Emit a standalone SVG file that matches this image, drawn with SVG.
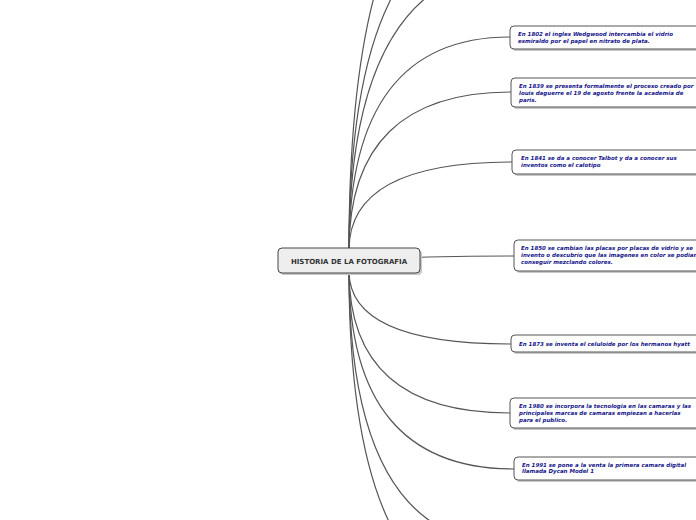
<svg xmlns="http://www.w3.org/2000/svg" width="696" height="520" viewBox="0 0 696 520">
<style>
.c{fill:none;stroke:#555;stroke-width:1.2;stroke-linecap:round}
.b{fill:#fff;stroke:#555;stroke-width:1}
.s{fill:#c8c8c8}
.t{font-family:"DejaVu Sans",Verdana,sans-serif;font-size:5.5px;font-weight:bold;font-style:italic;fill:#16168a}
.m{font-family:"DejaVu Sans",Verdana,sans-serif;font-size:7px;font-weight:bold;fill:#333}
</style>
<rect width="696" height="520" fill="#fff"/>
<g id="connectors">
<path class="c" d="M349,250 Q349,-150 510,-150"/>
<path class="c" d="M349,250 Q349,-80 510,-80"/>
<path class="c" d="M349,250 Q349,-35 525,-35"/>
<path class="c" d="M349,250 Q349,37 510,37"/>
<path class="c" d="M349,250 Q349,92 511,92"/>
<path class="c" d="M349,250 Q349,162 512,162"/>
<path class="c" d="M349,260 Q430,256 514,256"/>
<path class="c" d="M349,271 Q349,344 511,344"/>
<path class="c" d="M349,271 Q349,413 510,413"/>
<path class="c" d="M349,271 Q349,469 514,469"/>
<path class="c" d="M349,271 Q349,544 510,544"/>
<path class="c" d="M349,271 Q349,606 510,606"/>
</g>
<g id="root">
<rect class="s" x="280" y="250" width="142" height="25" rx="4"/>
<rect x="278" y="248" width="142" height="25" rx="4" fill="#eeeeee" stroke="#444" stroke-width="1"/>
<text class="m" x="349" y="263.5" text-anchor="middle">HISTORIA DE LA FOTOGRAFIA</text>
</g>
<g id="n1802">
<rect class="s" x="512" y="28" width="200" height="23" rx="4"/>
<rect class="b" x="510" y="26" width="200" height="23" rx="4"/>
<text class="t" x="518" y="36">En 1802 el ingles Wedgwood intercambia el vidrio</text>
<text class="t" x="518" y="43">esmiraldo por el papel en nitrato de plata.</text>
</g>
<g id="n1839">
<rect class="s" x="513" y="80" width="200" height="29" rx="4"/>
<rect class="b" x="511" y="78" width="200" height="29" rx="4"/>
<text class="t" x="519" y="88">En 1839 se presenta formalmente el proceso creado por</text>
<text class="t" x="519" y="95">louis daguerre el 19 de agosto frente la academia de</text>
<text class="t" x="519" y="102">paris.</text>
</g>
<g id="n1841">
<rect class="s" x="514" y="152" width="200" height="24" rx="4"/>
<rect class="b" x="512" y="150" width="200" height="24" rx="4"/>
<text class="t" x="521" y="160">En 1841 se da a conocer Talbot y da a conocer sus</text>
<text class="t" x="521" y="167">inventos como el calotipo</text>
</g>
<g id="n1850">
<rect class="s" x="516" y="242" width="200" height="31" rx="4"/>
<rect class="b" x="514" y="240" width="200" height="31" rx="4"/>
<text class="t" x="521" y="250">En 1850 se cambian las placas por placas de vidrio y se</text>
<text class="t" x="521" y="257">invento o descubrio que las imagenes en color se podian</text>
<text class="t" x="521" y="264">conseguir mezclando colores.</text>
</g>
<g id="n1873">
<rect class="s" x="513" y="337" width="200" height="17" rx="4"/>
<rect class="b" x="511" y="335" width="200" height="17" rx="4"/>
<text class="t" x="519" y="346">En 1873 se inventa el celuloide por los hermanos hyatt</text>
</g>
<g id="n1980">
<rect class="s" x="512" y="400" width="200" height="30" rx="4"/>
<rect class="b" x="510" y="398" width="200" height="30" rx="4"/>
<text class="t" x="519" y="408">En 1980 se incorpora la tecnologia en las camaras y las</text>
<text class="t" x="519" y="415">principales marcas de camaras empiezan a hacerlas</text>
<text class="t" x="519" y="422">para el publico.</text>
</g>
<g id="n1991">
<rect class="s" x="516" y="459" width="200" height="23" rx="4"/>
<rect class="b" x="514" y="457" width="200" height="23" rx="4"/>
<text class="t" x="522" y="467">En 1991 se pone a la venta la primera camara digital</text>
<text class="t" x="522" y="473">llamada Dycan Model 1</text>
</g>
</svg>
